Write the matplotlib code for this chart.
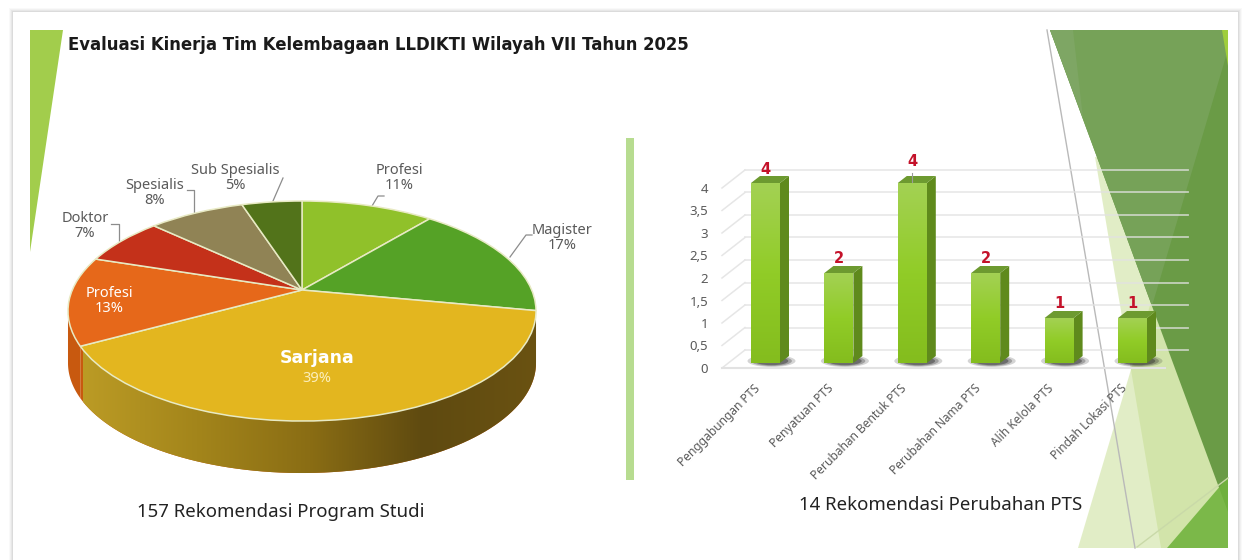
#!/usr/bin/env python3
# -*- coding: utf-8 -*-
"""Evaluasi Kinerja Tim Kelembagaan: perspective pie and 3D-look bar chart."""

import matplotlib

matplotlib.use("Agg")
import matplotlib.pyplot as plt
import numpy as np
from matplotlib.colors import LinearSegmentedColormap
from matplotlib.patches import Ellipse, Polygon, Rectangle
from matplotlib.transforms import Transform


W, H = 1251, 560

TITLE = "Evaluasi Kinerja Tim Kelembagaan LLDIKTI Wilayah VII Tahun 2025"
PIE_CAPTION = "157 Rekomendasi Program Studi"
BAR_CAPTION = "14 Rekomendasi Perubahan PTS"

pie_labels = ["Profesi", "Magister", "Sarjana", "Profesi", "Doktor", "Spesialis", "Sub Spesialis"]
pie_values = [11, 17, 39, 13, 7, 8, 5]
pie_colors = ["#90c12a", "#55a226", "#e3b61f", "#e6681a", "#c4311a", "#908355", "#52731a"]

bar_labels = [
    "Penggabungan PTS",
    "Penyatuan PTS",
    "Perubahan Bentuk PTS",
    "Perubahan Nama PTS",
    "Alih Kelola PTS",
    "Pindah Lokasi PTS",
]
bar_values = [4, 2, 4, 2, 1, 1]
y_ticks = [0, 0.5, 1, 1.5, 2, 2.5, 3, 3.5, 4]
y_tick_labels = ["0", "0,5", "1", "1,5", "2", "2,5", "3", "3,5", "4"]

GREY = "#5a5a5a"
FONT = ["Noto Sans", "DejaVu Sans"]
BOLD_FONT = ["DejaVu Sans"]

# perspective of the pie disc, in pixels
CX, CY = 302, 290
PERSP, DISC_M, DISC_K = 0.191, 106, 229.7
DEPTH = 52


class DiscProjection(Transform):
    """Unit circle -> tilted disc in pixel coordinates."""

    input_dims = output_dims = 2

    def transform_non_affine(self, values):
        values = np.asarray(values, dtype=float)
        w = 1 + PERSP * values[:, 1]
        return np.column_stack([CX + DISC_K * values[:, 0] / w, CY - DISC_M * values[:, 1] / w])


def poly(ax, pts, color, alpha=None, zorder=1):
    ax.add_patch(Polygon(pts, closed=True, facecolor=color, edgecolor="none", alpha=alpha, zorder=zorder))


def draw_slide(ax):
    # card with a soft shadow
    for grow, a in [(4, 0.04), (3, 0.06), (2, 0.08), (1, 0.1)]:
        ax.add_patch(Rectangle((13 - grow, 12 - grow), 1225 + 2 * grow, 560, fc="#777777", ec="none", alpha=a, zorder=0))
    ax.add_patch(Rectangle((13, 12), 1225, 560, fc="white", ec="none", zorder=0.1))

    poly(ax, [(30, 30), (63, 30), (30, 252)], "#a2cd4c")
    ax.add_patch(Rectangle((626, 138), 8, 342, fc="#b7dc90", ec="none", zorder=1))

    # right hand decoration
    poly(ax, [(1095, 157), (1161, 548), (1167, 548), (1228, 478), (1228, 157)], "#c5dd8f", alpha=0.5)
    poly(ax, [(1078, 548), (1151, 302), (1228, 510), (1228, 548)], "#c5dd8f", alpha=0.5)
    poly(ax, [(1050, 30), (1228, 30), (1228, 512)], "#6a9b46", zorder=1.2)
    poly(ax, [(1050, 30), (1227, 30), (1227, 53), (1152, 306)], "#76a258", zorder=1.3)
    poly(ax, [(1050, 30), (1073, 30), (1083, 118)], "#7ea664", zorder=1.4)
    poly(ax, [(1222, 30), (1228, 30), (1228, 66)], "#9fce3c", zorder=1.4)
    poly(ax, [(1167, 548), (1228, 477), (1228, 548)], "#70b33c", alpha=0.9, zorder=1.5)
    ax.plot([1137, 1228], [547, 478], color="#c9d9a8", lw=1, zorder=1.6)
    ax.plot([1047, 1135], [30, 548], color="#b9b9b9", lw=1, zorder=6)

    ax.text(68, 45, TITLE, fontsize=11.9, fontweight="bold", color="#1a1a1a", va="center", family=BOLD_FONT)
    ax.text(281, 512, PIE_CAPTION, fontsize=13.4, color="#222222", ha="center", va="center", family=FONT)
    ax.text(941, 505, BAR_CAPTION, fontsize=13.4, color="#222222", ha="center", va="center", family=FONT)


def draw_pie(ax):
    proj = DiscProjection()
    fractions = np.array(pie_values) / sum(pie_values)
    edges = np.concatenate([[0], np.cumsum(fractions)]) * 360
    # only this part of the rim faces the viewer (degrees clockwise from top)
    first, last = 101, 259

    side_cmap = LinearSegmentedColormap.from_list(
        "side", ["#bb9b25", "#a3851b", "#8a6d14", "#5f4a10", "#6a5212"]
    )
    for i, color in enumerate(pie_colors):
        start, end = max(edges[i], first), min(edges[i + 1], last)
        if end <= start:
            continue
        t = np.radians(np.linspace(start, end, 80))
        rim = proj.transform(np.column_stack([np.sin(t), np.cos(t)]))
        low = rim[::-1] + [0, DEPTH]
        side = Polygon(np.vstack([rim, low]), closed=True, fc="#c8590f", ec="none", zorder=2)
        ax.add_patch(side)
        if pie_labels[i] == "Sarjana":
            img = ax.imshow(
                np.linspace(0, 1, 256)[None, :],
                cmap=side_cmap,
                extent=[83, 537, 480, 300],
                aspect="auto",
                zorder=2.1,
            )
            img.set_clip_path(side)

    wedges, _ = ax.pie(
        pie_values,
        colors=pie_colors,
        startangle=90,
        counterclock=False,
        wedgeprops={"edgecolor": "#e8eac4", "linewidth": 1.1},
    )
    for wedge in wedges:
        wedge.set_transform(proj + ax.transData)
        wedge.set_zorder(3)
        wedge.set_clip_on(False)

    label_pos = [(399, 178), (562, 238), (317, 367), (109, 301), (85, 226), (155, 193), (235, 178)]
    for i, (x, y) in enumerate(label_pos):
        name, pct = pie_labels[i], f"{pie_values[i]}%"
        if i == 2:
            ax.text(x, y - 9, name, color="white", fontsize=12.5, fontweight="bold", ha="center", va="center",
                    family=BOLD_FONT, zorder=4)
            ax.text(x, y + 11, pct, color="#fbeebb", fontsize=10.5, ha="center", va="center", family=FONT, zorder=4)
            continue
        color = "white" if i == 3 else GREY
        ax.text(x, y, f"{name}\n{pct}", color=color, fontsize=10.5, ha="center", va="center",
                linespacing=1.05, family=FONT, zorder=4)

    leaders = [
        [(372, 206), (378, 196), (384, 196)],
        [(510, 257), (526, 235), (532, 235)],
        [(119, 243), (119, 224), (111, 224)],
        [(194, 213), (194, 190), (187, 190)],
        [(273, 201), (283, 178)],
    ]
    for line in leaders:
        xs, ys = zip(*line)
        ax.plot(xs, ys, color="#8c8c8c", lw=0.9, zorder=2.5)


def draw_bars(fig):
    left, right, bottom, top = 722, 1165, 368, 188
    ax = fig.add_axes([left / W, 1 - bottom / H, (right - left) / W, (bottom - top) / H])
    ax.patch.set_visible(False)
    ax.set_zorder(5)
    for spine in ax.spines.values():
        spine.set_visible(False)

    step_px = 73.4
    xlim = ((left - 765.5) / step_px, (right - 765.5) / step_px)
    xu, yu = 1 / step_px, 4 / (bottom - top)
    x = np.arange(len(bar_values))
    width = 29 * xu

    # walls and floor
    back_x, back_y = 23 * xu, 18 * yu
    for v in y_ticks:
        ax.plot([xlim[0] + back_x, xlim[1] + back_x], [v + back_y, v + back_y], color="#e2e2e2", alpha=0.75,
                lw=1.3, clip_on=False, zorder=1)
        ax.plot([xlim[0], xlim[0] + back_x], [v, v + back_y], color="#e6e6e6", lw=1.1, clip_on=False, zorder=1)
    ax.plot(xlim, [0, 0], color="#e2e2e2", lw=1.5, clip_on=False, zorder=1)

    lift = 5 * yu
    dx, dy = 9 * xu, 7 * yu
    front_cmap = LinearSegmentedColormap.from_list("front", ["#a3d153", "#91cc27", "#84bd1e"])

    # floor shadow under each bar
    for xi in x:
        for scale, a in [(1.0, 0.2), (0.85, 0.3), (0.7, 0.45)]:
            ax.add_patch(Ellipse((xi + 6 * xu, lift + 2 * yu), 48 * xu * scale, 12 * yu * scale, fc="#2c2c2c",
                                 ec="none", alpha=a, clip_on=False, zorder=2))

    bars = ax.bar(x, bar_values, width=width, bottom=lift, color="#91cc27", zorder=4, clip_on=False)
    for bar, xi, v in zip(bars, x, bar_values):
        x0, x1 = xi - width / 2, xi + width / 2
        y0, y1 = lift, lift + v
        ax.add_patch(Polygon([(x1, y0), (x1 + dx, y0 + dy), (x1 + dx, y1 + dy), (x1, y1)], fc="#5f8a1c", ec="none",
                             clip_on=False, zorder=3))
        ax.add_patch(Polygon([(x0, y1), (x0 + dx, y1 + dy), (x1 + dx, y1 + dy), (x1, y1)], fc="#6d9a30", ec="none",
                             clip_on=False, zorder=3))
        img = ax.imshow(np.linspace(0, 1, 64)[:, None], cmap=front_cmap, extent=[x0, x1, y0, y1], origin="upper",
                        aspect="auto", zorder=4.5)
        img.set_clip_path(bar)

    # data labels sit a little above the bars, the third one higher with a leader line
    for xi, v in zip(x, bar_values):
        extra = 7 * yu if xi == 2 else 0
        ax.text(xi, v + lift + 14 * yu + extra, str(v), color="#c4122a", fontsize=10.5, fontweight="bold",
                ha="center", va="center", family=BOLD_FONT, clip_on=False, zorder=6)
    ax.plot([2, 2], [4 + lift + 1 * yu, 4 + lift + 10 * yu], color="#9a9a9a", lw=0.8, clip_on=False, zorder=5)

    ax.set_xlim(xlim)
    ax.set_ylim(0, 4)
    ax.set_yticks(y_ticks)
    ax.set_yticklabels(y_tick_labels, color=GREY, fontsize=9.5, family=FONT)
    # rotated labels end a bit left of the bar centre
    ax.set_xticks(x - 12 * xu)
    ax.set_xticklabels(bar_labels, rotation=45, ha="right", va="top", rotation_mode="anchor", color=GREY,
                       fontsize=8.6, family=FONT)
    ax.tick_params(axis="both", length=0)
    ax.tick_params(axis="y", pad=10)
    ax.tick_params(axis="x", pad=10)


def main() -> None:
    plt.rcParams["font.family"] = FONT
    fig = plt.figure(figsize=(W / 100, H / 100), dpi=100, facecolor="white")
    ax = fig.add_axes([0, 0, 1, 1])

    draw_slide(ax)
    draw_pie(ax)

    ax.set_aspect("auto")
    ax.set_xlim(0, W)
    ax.set_ylim(H, 0)
    ax.axis("off")

    draw_bars(fig)
    fig.savefig("out.png", dpi=100)


if __name__ == "__main__":
    main()
